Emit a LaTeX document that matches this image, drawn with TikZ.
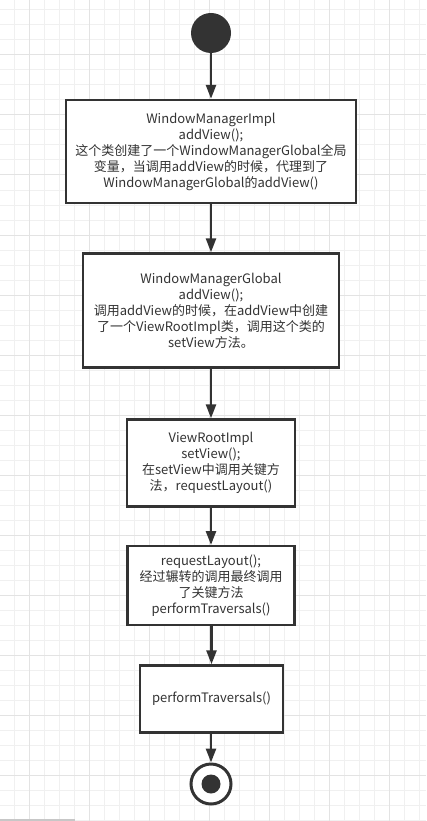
\documentclass[tikz,border=0pt]{standalone}
\usepackage{fontspec}
\setmainfont{Noto Sans CJK SC}
\usetikzlibrary{arrows.meta}
\definecolor{ink}{HTML}{333333}
\definecolor{minorgrid}{HTML}{F0F0F0}
\definecolor{majorgrid}{HTML}{E3E3E3}
\tikzset{
  stepbox/.style={draw=ink, line width=2.4pt, fill=white, inner sep=0pt, align=center,
    text=ink, font=\fontsize{13}{16}\selectfont},
  flow/.style={draw=ink, line width=2.6pt, -{Triangle[length=14pt,width=10pt]}},
}
\begin{document}
\begin{tikzpicture}[x=1pt,y=1pt]
\useasboundingbox (0,0) rectangle (426,-821);
\fill [white] (0,0) rectangle (426,-821);
% grid
\foreach \x in {14.7,29.7,...,425} \draw [minorgrid, line width=1pt] (\x,0) -- (\x,-821);
\foreach \y in {10,25,...,821} \draw [minorgrid, line width=1pt] (0,-\y) -- (426,-\y);
\foreach \x in {29.7,89.7,...,425} \draw [majorgrid, line width=1pt] (\x,0) -- (\x,-821);
\foreach \y in {55,115,...,821} \draw [majorgrid, line width=1pt] (0,-\y) -- (426,-\y);
\fill [black!22] (0,-818.5) rectangle (75,-821);
% states
\node (start) [circle, fill=ink, minimum size=40pt, inner sep=0pt] at (211,-33) {};
\node (impl) [stepbox, minimum width=290pt, minimum height=103pt] at (211,-151.5)
  {WindowManagerImpl\\addView();\\这个类创建了一个WindowManagerGlobal全局\\变量，当调用addView的时候，代理到了\\WindowManagerGlobal的addView()};
\node (global) [stepbox, minimum width=256pt, minimum height=114pt] at (211,-310.5)
  {WindowManagerGlobal\\addView();\\调用addView的时候，在addView中创建\\了一个ViewRootImpl类，调用这个类的\\setView方法。};
\node (root) [stepbox, minimum width=168pt, minimum height=87pt] at (211,-463)
  {ViewRootImpl\\setView();\\在setView中调用关键方\\法，requestLayout()};
\node (layout) [stepbox, minimum width=167pt, minimum height=79pt] at (211,-585.7)
  {requestLayout();\\经过辗转的调用最终调用\\了关键方法\\performTraversals()};
\node (trav) [stepbox, minimum width=143pt, minimum height=67pt] at (211.5,-699)
  {performTraversals()};
\node (stop) [circle, draw=ink, line width=3pt, fill=white, minimum size=40pt, inner sep=0pt] at (211,-784) {};
\fill [ink] (stop.center) circle (9.5pt);
% transitions
\draw [flow] (start) -- (impl);
\draw [flow] (impl) -- (global);
\draw [flow] (global) -- (root);
\draw [flow] (root) -- (layout);
\draw [flow] (layout.south -| trav.north) -- (trav);
\draw [flow] (trav.south -| stop.north) -- (stop);
\end{tikzpicture}
\end{document}
